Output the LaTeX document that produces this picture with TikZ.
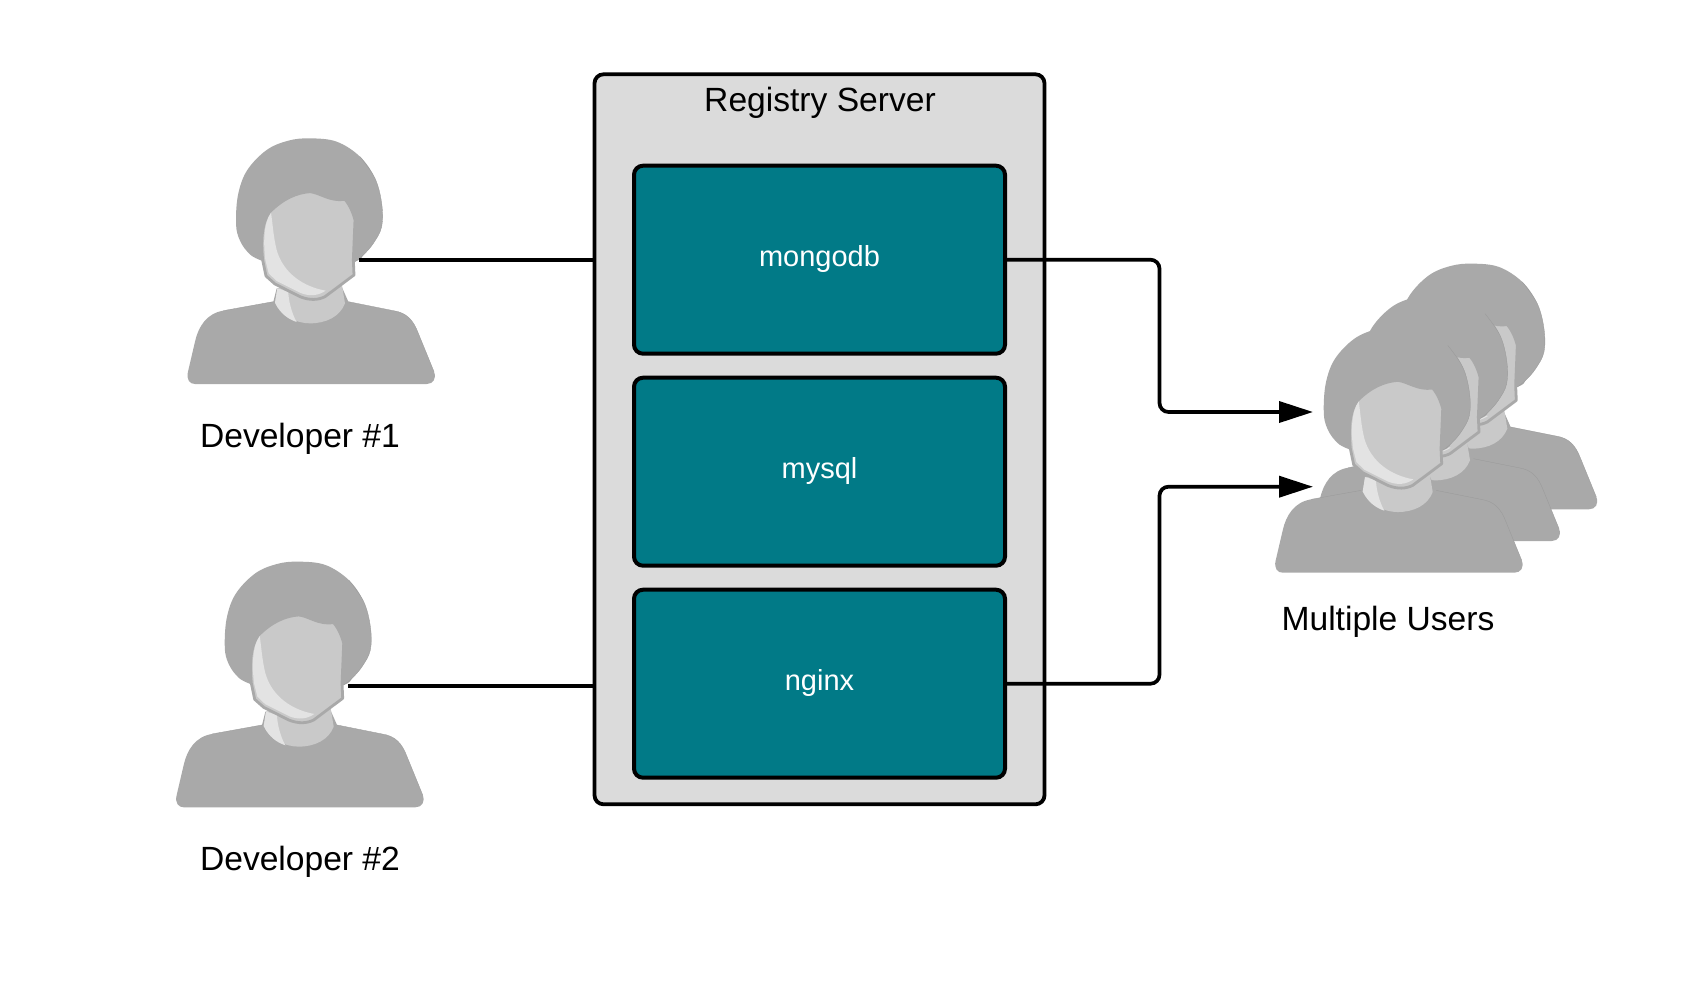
\documentclass[tikz,border=0pt]{standalone}
\usepackage{fontspec}
\setmainfont{Liberation Sans}
\usetikzlibrary{arrows.meta}
\definecolor{hairgray}{HTML}{A9A9A9}
\definecolor{facegray}{HTML}{C9C9C9}
\definecolor{lightgray2}{HTML}{E3E3E3}
\definecolor{rimgray}{HTML}{A9A9A9}
\definecolor{seamgray}{HTML}{9A9A9A}
\definecolor{servergray}{HTML}{DBDBDB}
\definecolor{teal2}{HTML}{017A87}
\tikzset{
  serverbox/.style={draw=black,line width=3.8pt,fill=servergray,rounded corners=9pt,minimum width=450pt,minimum height=730pt,inner sep=0pt,outer sep=0pt,anchor=north west},
  servicebox/.style={draw=black,line width=4pt,fill=teal2,rounded corners=9pt,minimum width=371pt,minimum height=188pt,inner sep=0pt,outer sep=0pt,anchor=north west},
  servicetext/.style={text=white,font=\fontsize{29pt}{30pt}\selectfont,anchor=base,inner sep=0pt},
  caption/.style={text=black,font=\fontsize{33.6pt}{36pt}\selectfont,anchor=base,inner sep=0pt},
  link/.style={draw=black,line width=3.7pt},
  flow/.style={link,rounded corners=9pt,-{Triangle[length=34pt,width=21pt]}},
  person/.pic={
    \begin{scope}[x=0.33333pt,y=-0.33333pt]
      % hair
      \fill[hairgray] plot[smooth cycle,tension=0.6] coordinates {(450,55)(530,65)(600,110)(645,175)(665,250)(665,320)(640,370)(610,405)(585,425)(450,470)(305,422)(262,395)(235,350)(228,300)(235,220)(262,150)(320,90)(385,62)};
      \draw[seamgray,line width=0.35pt] plot[smooth,tension=0.6] coordinates {(600,110)(645,175)(665,250)(665,320)(640,370)(610,405)(585,425)};
      % body
      \fill[hairgray] (105,792) -- (800,792) .. controls (820,792) and (830,775) .. (822,755) -- (775,640) .. controls (760,600) and (740,578) .. (700,572) -- (565,545) -- (545,500) -- (350,505) -- (340,545) -- (190,572) .. controls (140,580) and (115,620) .. (105,665) -- (84,755) .. controls (78,780) and (90,792) .. (105,792) -- cycle;
      \draw[seamgray,line width=0.35pt] (822,755) -- (775,640) .. controls (760,600) and (740,578) .. (700,572) -- (565,545);
      \draw[seamgray,line width=0.35pt] (340,545) -- (190,572);
      % neck
      \fill[facegray] (352,505) -- (345,548) .. controls (362,588) and (410,610) .. (450,610) .. controls (498,610) and (540,590) .. (555,550) -- (545,490) -- cycle;
      \fill[lightgray2] (352,505) -- (345,548) .. controls (360,580) and (385,598) .. (410,606) .. controls (395,580) and (385,540) .. (385,515) -- cycle;
      % face
      \filldraw[fill=facegray,draw=rimgray,line width=2.8pt,line join=round] (330,275) .. controls (370,235) and (410,218) .. (450,215) .. controls (480,218) and (510,245) .. (555,238) .. controls (570,255) and (580,280) .. (585,300) -- (580,420) -- (582,465) -- (495,530) .. controls (475,540) and (450,542) .. (420,530) -- (345,492) -- (318,468) -- (308,420) .. controls (303,370) and (303,310) .. (330,275) -- cycle;
      \fill[lightgray2] (333,278) .. controls (310,310) and (310,370) .. (316,420) -- (326,460) -- (350,483) -- (422,519) .. controls (450,530) and (475,527) .. (497,512) .. controls (430,500) and (370,460) .. (350,390) .. controls (340,350) and (338,310) .. (333,278) -- cycle;
    \end{scope}
  }
}
\begin{document}
\begin{tikzpicture}[x=1pt,y=-1pt]
\useasboundingbox (0,0) rectangle (1688,996);
\fill[white] (0,0) rectangle (1688,996);

% server
\node[serverbox] (server) at (594.5,74.3) {};
\node[caption] (servertitle) at (820,111.7) {Registry Server};
\node[servicebox] (mongodb) at (634,165.7) {};
\node[servicebox] (mysql) at (634,377.7) {};
\node[servicebox] (nginx) at (634,589.7) {};
\node[servicetext] (mongolabel) at (819.5,266) {mongodb};
\node[servicetext] (mysqllabel) at (819.5,478) {mysql};
\node[servicetext] (nginxlabel) at (819.5,690) {nginx};

% people
\pic at (148.7,543.3) {person};
\pic at (160,120) {person};
\pic at (1322.3,245.3) {person};
\pic at (1285,277) {person};
\pic at (1247.7,308.7) {person};

\node[caption] (dev1) at (300,447.6) {Developer \#1};
\node[caption] (dev2) at (300,870.8) {Developer \#2};
\node[caption] (users) at (1388,630.8) {Multiple Users};

\coordinate (dev1port) at (359,260);
\coordinate (dev2port) at (348,685.7);
\coordinate (usersin1) at (1313,412);
\coordinate (usersin2) at (1313,486.7);
\coordinate (busx) at (1159.5,0);

\draw[link] (dev1port) -- (dev1port -| server.west);
\draw[link] (dev2port) -- (dev2port -| server.west);
\draw[flow] (mongodb.east) -- (mongodb.east -| busx) -- (busx |- usersin1) -- (usersin1);
\draw[flow] (nginx.east) -- (nginx.east -| busx) -- (busx |- usersin2) -- (usersin2);
\end{tikzpicture}
\end{document}
